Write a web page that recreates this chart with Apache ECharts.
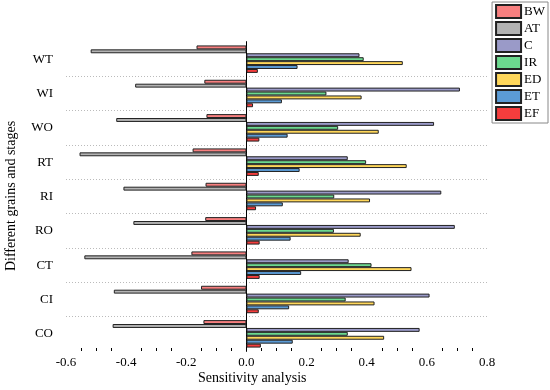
<!DOCTYPE html>
<html>
<head>
<meta charset="utf-8">
<script src="https://cdn.jsdelivr.net/npm/echarts@6/dist/echarts.min.js"></script>
<style>html,body{margin:0;padding:0;background:#fff;}#c{width:550px;height:390px;}</style>
</head>
<body>
<div id="c"></div>
<script>
const categories = ['CO','CI','CT','RO','RI','RT','WO','WI','WT'];
const seriesNames = ['BW','AT','C','IR','ED','ET','EF'];
const BW = [-0.143, -0.151, -0.183, -0.137, -0.136, -0.179, -0.133, -0.140, -0.166];
const AT = [-0.445, -0.441, -0.539, -0.376, -0.409, -0.555, -0.433, -0.370, -0.518];
const C  = [0.576, 0.609, 0.340, 0.693, 0.648, 0.337, 0.624, 0.710, 0.376];
const IR = [0.337, 0.330, 0.416, 0.291, 0.292, 0.398, 0.305, 0.266, 0.390];
const ED = [0.458, 0.426, 0.549, 0.380, 0.411, 0.533, 0.440, 0.383, 0.520];
const ET = [0.154, 0.142, 0.182, 0.147, 0.121, 0.177, 0.137, 0.118, 0.170];
const EF = [0.048, 0.041, 0.044, 0.044, 0.032, 0.041, 0.043, 0.022, 0.038];
const xTicks = {min: -0.6, max: 0.8, interval: 0.2};
const xName = 'Sensitivity analysis';
const yName = 'Different grains and stages';

const values = {BW, AT, C, IR, ED, ET, EF};
const colors = {BW:'#F77F7F', AT:'#B3B3B3', C:'#9A9AC8', IR:'#6CD98F', ED:'#FFD75A', ET:'#5B9BD5', EF:'#F53D3D'};
const FONT = "'Liberation Serif', 'Times New Roman', serif";

const chart = echarts.init(document.getElementById('c'), null, {renderer:'canvas'});
const series = seriesNames.map(n => ({
  name: n, type: 'bar', data: values[n], yAxisIndex: 0,
  barGap: '0%', barCategoryGap: '20%',
  itemStyle: {color: colors[n], borderColor: '#222', borderWidth: 1},
  emphasis: {disabled: true}
}));
const zeroAxis = (tick) => ({
  type: 'category', data: categories, position: 'left',
  axisLine: {show: true, onZero: true, onZeroAxisIndex: 0, lineStyle: {color: '#000', width: 1}},
  axisTick: Object.assign({lineStyle: {color: '#000'}}, tick),
  axisLabel: {show: false}, splitLine: {show: false}
});
chart.setOption({
  animation: false,
  textStyle: {fontFamily: FONT},
  grid: {left: 66, right: 63, top: 42, bottom: 39, containLabel: false, outerBoundsMode: 'none'},
  legend: {
    orient: 'vertical', right: 2, top: 2, data: seriesNames,
    icon: 'rect',
    itemWidth: 25, itemHeight: 13, itemGap: 2,
    padding: [2, 3, 2, 3],
    borderColor: '#888', borderWidth: 1,
    textStyle: {fontFamily: FONT, fontSize: 13, color: '#000', padding: [0,0,0,-2]},
    selectedMode: false
  },
  xAxis: {
    type: 'value', min: xTicks.min, max: xTicks.max, interval: xTicks.interval,
    axisLine: {onZero: false, lineStyle: {color: '#000'}},
    axisTick: {inside: true, length: 5, lineStyle: {color: '#000'}},
    minorTick: {show: true, splitNumber: 4, length: 3, lineStyle: {color: '#000'}},
    splitLine: {show: false},
    axisLabel: {color: '#000', fontSize: 13, fontFamily: FONT, margin: 5, formatter: v => v.toFixed(1)}
  },
  yAxis: [
    {
      type: 'category', data: categories, position: 'left',
      axisLine: {show: false, onZero: false},
      axisTick: {show: false},
      axisLabel: {color: '#000', fontSize: 13, fontFamily: FONT, margin: 13},
      splitLine: {show: true, showMinLine: false, showMaxLine: false, lineStyle: {type: [1, 2], color: '#bbb'}}
    },
    zeroAxis({alignWithLabel: true, inside: false, length: 6}),
    zeroAxis({alignWithLabel: true, inside: true, length: 6}),
    zeroAxis({alignWithLabel: false, inside: true, length: 3})
  ],
  graphic: [
    {type: 'text', left: 198, top: 371, style: {text: xName, font: "14px " + FONT, fill: '#000'}},
    {type: 'text', x: 4, y: 196, rotation: Math.PI/2, style: {text: yName, font: "14px " + FONT, fill: '#000', textAlign: 'center', textVerticalAlign: 'top'}}
  ],
  series: series
});
</script>
</body>
</html>
